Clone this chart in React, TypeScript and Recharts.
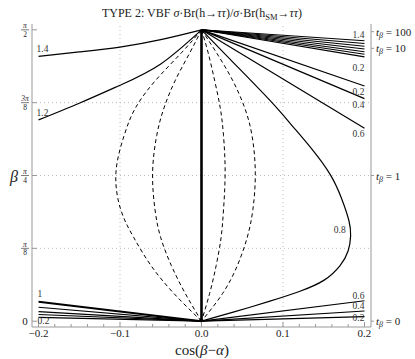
import React from "react";
import { ComposedChart, Line, XAxis, YAxis, ReferenceLine } from "recharts";

type Pt = [number, number];

const SERIF = "'Liberation Serif', 'DejaVu Serif', serif";
const FRAME = "#999";
const INK = "#222";
const HALF_PI = 1.5708;

// x: cos(β−α), y: β in radians
const X_DOMAIN: [number, number] = [-0.208, 0.208];
const Y_DOMAIN: [number, number] = [-0.0314, 1.6022];

const xTicks = [
  -0.2, -0.18, -0.16, -0.14, -0.12, -0.1, -0.08, -0.06, -0.04, -0.02, 0,
  0.02, 0.04, 0.06, 0.08, 0.1, 0.12, 0.14, 0.16, 0.18, 0.2,
];
const xMajor = [-0.2, -0.1, 0, 0.1, 0.2];
const xMajorLabels = ["\u22120.2", "\u22120.1", "0.0", "0.1", "0.2"];

const yTicks = [0, 0.3927, 0.7854, 1.1781, 1.5708];
const yTickNum = ["0", "\u03c0", "\u03c0", "3\u03c0", "\u03c0"];
const yTickDen = ["", "8", "4", "8", "2"];

const tanBetaTicks = [0, 0.7854, 1.4711, 1.5608];
const tanBetaLabels = ["0", "1", "10", "100"];

const gridX = [-0.1, 0.1];
const gridY = [0.3927, 0.7854, 1.1781];

// contour at 1 along cos(β−α) = 0
const contourAxis: Pt[] = [[0, 0], [0, HALF_PI]];

// upper left contours
const upperLeft14: Pt[] = [[-0.2, 1.428], [-0.15, 1.452], [-0.1, 1.478], [-0.05, 1.518], [0, HALF_PI]];
const upperLeft12: Pt[] = [[-0.2, 1.085], [-0.15, 1.175], [-0.1, 1.272], [-0.05, 1.387], [0, HALF_PI]];

// bundle running to the right edge near tβ = 10..100
const bundleEnds = [1.512, 1.497, 1.482, 1.467, 1.453, 1.439, 1.425];
const bundleLabels = ["1.4", "", "", "", "", "", "0.2"];

// single upper right contours
const upperRightEnds = [1.268, 1.2, 1.04];
const upperRightLabels = ["0.2", "0.4", "0.6"];

// 0.8 contour bending out to the right
const curve08: Pt[] = [
  [0, HALF_PI], [0.04, 1.39], [0.084, 1.19], [0.11, 1.06], [0.135, 0.93],
  [0.158, 0.79], [0.172, 0.66], [0.181, 0.54], [0.183, 0.46], [0.18, 0.38],
  [0.17, 0.3], [0.15, 0.22], [0.12, 0.16], [0.084, 0.108], [0.04, 0.05], [0, 0],
];

// lower right contours
const lowerRightEnds = [0.11, 0.055, 0.025];
const lowerRightLabels = ["0.6", "0.4", "0.2"];

// lower left contours
const lowerLeftStarts = [0.105, 0.075, 0.052, 0.036, 0.02];
const lowerLeftLabels = ["1", "", "", "", "0.2"];

// dashed contours between the two corners
const dashedOuterLeft: Pt[] = [
  [0, HALF_PI], [-0.024, 1.45], [-0.056, 1.3], [-0.081, 1.15], [-0.095, 1.0],
  [-0.105, 0.8], [-0.099, 0.6], [-0.083, 0.45], [-0.062, 0.3], [-0.034, 0.15], [0, 0],
];
const dashedInnerLeft: Pt[] = [
  [0, HALF_PI], [-0.014, 1.45], [-0.032, 1.3], [-0.046, 1.15], [-0.055, 1.0],
  [-0.06, 0.8], [-0.057, 0.6], [-0.05, 0.45], [-0.037, 0.3], [-0.02, 0.15], [0, 0],
];
const dashedInnerRight: Pt[] = [
  [0, HALF_PI], [0.008, 1.45], [0.016, 1.3], [0.023, 1.15], [0.027, 1.0],
  [0.029, 0.8], [0.027, 0.6], [0.024, 0.45], [0.018, 0.3], [0.01, 0.15], [0, 0],
];
const dashedOuterRight: Pt[] = [
  [0, HALF_PI], [0.018, 1.45], [0.038, 1.3], [0.053, 1.15], [0.062, 1.0],
  [0.066, 0.8], [0.063, 0.6], [0.056, 0.45], [0.044, 0.3], [0.026, 0.15], [0, 0],
];

const toRows = (pts: Pt[]) => pts.map(([x, y]) => ({ x, y }));

const tag =
  (text: string, idx: number, dx: number, dy: number, anchor: "start" | "end" = "start") =>
  (p: any) =>
    text && p.index === idx ? (
      <text
        x={p.x + dx}
        y={p.y + dy}
        textAnchor={anchor}
        fontSize={9.5}
        fontFamily={SERIF}
        fill="#333"
      >
        {text}
      </text>
    ) : null;

const BottomTick = (p: any) => {
  const v = p.payload.value;
  const i = xMajor.findIndex((m) => Math.abs(m - v) < 1e-9);
  return (
    <g>
      <line x1={p.x} x2={p.x} y1={p.y} y2={p.y - (i >= 0 ? 5 : 3)} stroke={FRAME} />
      {i >= 0 && (
        <text x={p.x} y={p.y + 10} textAnchor="middle" fontSize={11} fontFamily={SERIF} fill={INK}>
          {xMajorLabels[i]}
        </text>
      )}
    </g>
  );
};

const TopTick = (p: any) => {
  const v = p.payload.value;
  const major = xMajor.some((m) => Math.abs(m - v) < 1e-9);
  return <line x1={p.x} x2={p.x} y1={p.y} y2={p.y + (major ? 5 : 3)} stroke={FRAME} />;
};

const LeftTick = (p: any) => {
  const i = yTicks.findIndex((t) => Math.abs(t - p.payload.value) < 1e-6);
  const cx = p.x - 7;
  return (
    <g fontFamily={SERIF} fill={INK}>
      <line x1={p.x} x2={p.x + 5} y1={p.y} y2={p.y} stroke={FRAME} />
      {yTickDen[i] === "" ? (
        <text x={cx} y={p.y + 4} textAnchor="middle" fontSize={11}>
          {yTickNum[i]}
        </text>
      ) : (
        <>
          <text x={cx} y={p.y - 1.5} textAnchor="middle" fontSize={7.5} fontStyle="italic">
            {yTickNum[i]}
          </text>
          <line x1={cx - 4} x2={cx + 4} y1={p.y} y2={p.y} stroke={INK} strokeWidth={0.6} />
          <text x={cx} y={p.y + 7} textAnchor="middle" fontSize={7.5}>
            {yTickDen[i]}
          </text>
        </>
      )}
    </g>
  );
};

const RightTick = (p: any) => {
  const i = tanBetaTicks.findIndex((t) => Math.abs(t - p.payload.value) < 1e-6);
  return (
    <g fontFamily={SERIF} fill={INK}>
      <line x1={p.x} x2={p.x + 3} y1={p.y} y2={p.y} stroke={FRAME} />
      <text x={p.x + 5} y={p.y + 4} fontSize={11}>
        <tspan fontStyle="italic">t</tspan>
        <tspan fontSize={8} dy={2} fontStyle="italic">
          {"\u03b2"}
        </tspan>
        <tspan dy={-2}>{" = " + tanBetaLabels[i]}</tspan>
      </text>
    </g>
  );
};

const lineProps = {
  xAxisId: "b",
  yAxisId: "l",
  dataKey: "y",
  stroke: "#000",
  dot: false,
  activeDot: false,
  isAnimationActive: false,
} as const;

export default function App() {
  return (
    <div style={{ position: "absolute", left: 0, top: 0, width: 415, height: 359, background: "#fff" }}>
      <ComposedChart width={415} height={359} margin={{ top: 24, right: 0, bottom: 0, left: 0 }}>
        <XAxis
          xAxisId="b"
          type="number"
          dataKey="x"
          domain={X_DOMAIN}
          ticks={xTicks}
          interval={0}
          allowDataOverflow
          height={32}
          tickSize={0}
          tickMargin={0}
          tickLine={false}
          axisLine={{ stroke: FRAME }}
          tick={<BottomTick />}
        />
        <XAxis
          xAxisId="t"
          orientation="top"
          type="number"
          dataKey="x"
          domain={X_DOMAIN}
          ticks={xTicks}
          interval={0}
          allowDataOverflow
          height={0}
          tickSize={0}
          tickMargin={0}
          tickLine={false}
          axisLine={{ stroke: FRAME }}
          tick={<TopTick />}
        />
        <YAxis
          yAxisId="l"
          type="number"
          domain={Y_DOMAIN}
          ticks={yTicks}
          interval={0}
          allowDataOverflow
          width={32}
          tickSize={0}
          tickMargin={0}
          tickLine={false}
          axisLine={{ stroke: FRAME }}
          tick={<LeftTick />}
        />
        <YAxis
          yAxisId="r"
          orientation="right"
          type="number"
          domain={Y_DOMAIN}
          ticks={tanBetaTicks}
          interval={0}
          allowDataOverflow
          width={44}
          tickSize={0}
          tickMargin={0}
          tickLine={false}
          axisLine={{ stroke: FRAME }}
          tick={<RightTick />}
        />

        {gridX.map((g) => (
          <ReferenceLine key={"gx" + g} xAxisId="b" yAxisId="l" x={g} stroke="#bbb" strokeDasharray="1 3" />
        ))}
        {gridY.map((g) => (
          <ReferenceLine key={"gy" + g} xAxisId="b" yAxisId="l" y={g} stroke="#bbb" strokeDasharray="1 3" />
        ))}

        <Line {...lineProps} data={toRows(dashedOuterLeft)} type="natural" strokeWidth={1} strokeDasharray="4 3" />
        <Line {...lineProps} data={toRows(dashedInnerLeft)} type="natural" strokeWidth={1} strokeDasharray="4 3" />
        <Line {...lineProps} data={toRows(dashedInnerRight)} type="natural" strokeWidth={1} strokeDasharray="4 3" />
        <Line {...lineProps} data={toRows(dashedOuterRight)} type="natural" strokeWidth={1} strokeDasharray="4 3" />

        <Line {...lineProps} data={toRows(upperLeft14)} type="natural" strokeWidth={1.2} label={tag("1.4", 0, -2, -4)} />
        <Line {...lineProps} data={toRows(upperLeft12)} type="natural" strokeWidth={1.2} label={tag("1.2", 0, -2, -4)} />

        {bundleEnds.map((b, i) => (
          <Line
            key={"bundle" + i}
            {...lineProps}
            data={toRows([[0, HALF_PI], [0.2, b]])}
            type="linear"
            strokeWidth={1.1}
            label={tag(bundleLabels[i], 1, 0, i === 0 ? -3 : 14, "end")}
          />
        ))}
        {upperRightEnds.map((b, i) => (
          <Line
            key={"ur" + i}
            {...lineProps}
            data={toRows([[0, HALF_PI], [0.2, b]])}
            type="linear"
            strokeWidth={1.2}
            label={tag(upperRightLabels[i], 1, 0, 9, "end")}
          />
        ))}

        <Line {...lineProps} data={toRows(curve08)} type="natural" strokeWidth={1.2} label={tag("0.8", 8, -5, -3, "end")} />

        {lowerRightEnds.map((b, i) => (
          <Line
            key={"lr" + i}
            {...lineProps}
            data={toRows([[0, 0], [0.2, b]])}
            type="linear"
            strokeWidth={1.2}
            label={tag(lowerRightLabels[i], 1, 0, i === 2 ? 4 : -2, "end")}
          />
        ))}
        {lowerLeftStarts.map((b, i) => (
          <Line
            key={"ll" + i}
            {...lineProps}
            data={toRows([[-0.2, b], [0, 0]])}
            type="linear"
            strokeWidth={i === 0 ? 2 : 1.2}
            label={tag(lowerLeftLabels[i], 0, -1, i === 0 ? -5 : 6.5)}
          />
        ))}

        <Line {...lineProps} data={toRows(contourAxis)} type="linear" strokeWidth={2.6} />
      </ComposedChart>

      <svg
        width={415}
        height={359}
        style={{ position: "absolute", left: 0, top: 0, pointerEvents: "none" }}
        fontFamily={SERIF}
        fill={INK}
      >
        <text x={202} y={17} textAnchor="middle" fontSize={12}>
          {"TYPE 2: VBF "}
          <tspan fontStyle="italic">{"\u03c3"}</tspan>
          {"\u00b7Br(h\u2192"}
          <tspan fontStyle="italic">{"\u03c4\u03c4"}</tspan>
          {")/"}
          <tspan fontStyle="italic">{"\u03c3"}</tspan>
          {"\u00b7Br(h"}
          <tspan fontSize={8.5} dy={3}>
            SM
          </tspan>
          <tspan dy={-3}>{"\u2192"}</tspan>
          <tspan fontStyle="italic">{"\u03c4\u03c4"}</tspan>
          {")"}
        </text>
        <text x={14} y={182} textAnchor="middle" fontSize={16} fontStyle="italic">
          {"\u03b2"}
        </text>
        <text x={202} y={355} textAnchor="middle" fontSize={15}>
          {"cos("}
          <tspan fontStyle="italic">{"\u03b2"}</tspan>
          {"\u2212"}
          <tspan fontStyle="italic">{"\u03b1"}</tspan>
          {")"}
        </text>
      </svg>
    </div>
  );
}
